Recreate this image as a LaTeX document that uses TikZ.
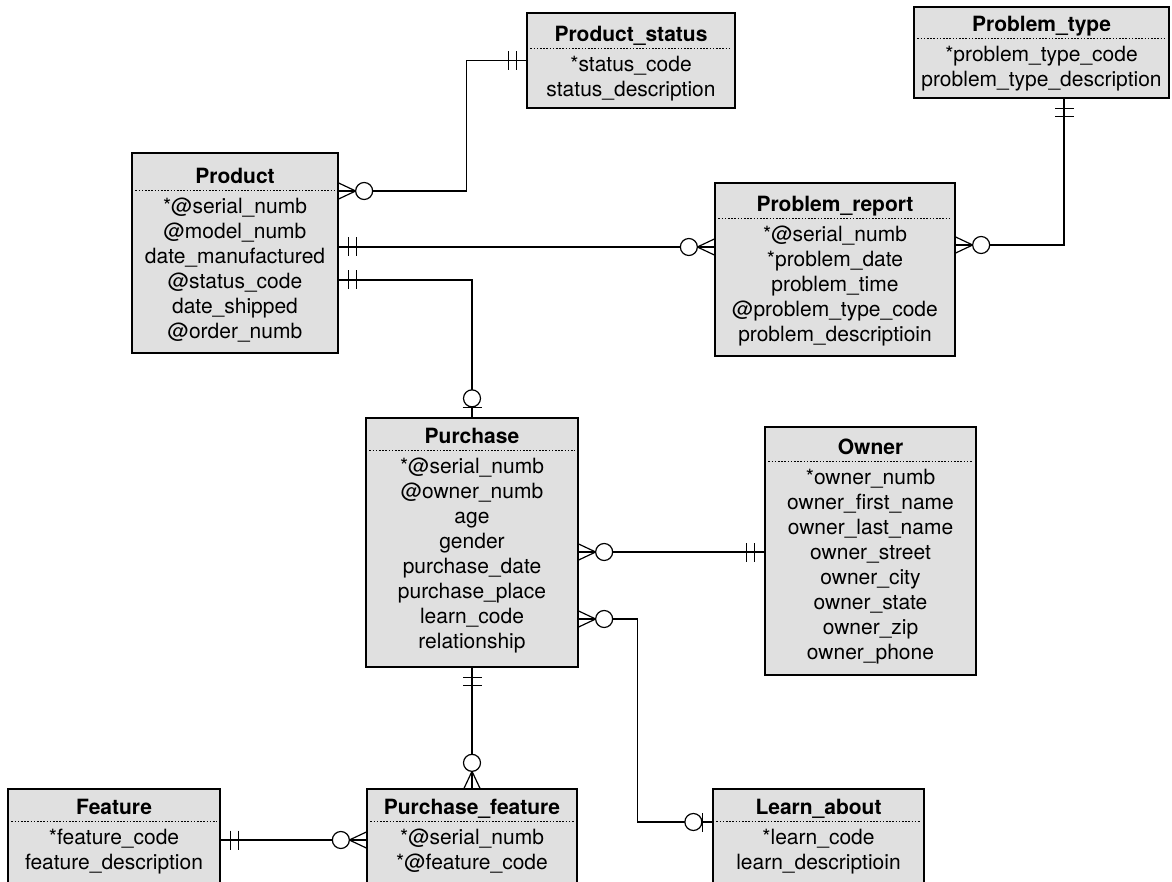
\documentclass[tikz,border=0pt]{standalone}
\usepackage{fontspec}
\setmainfont{TeX Gyre Heros}
\usetikzlibrary{calc, positioning}
\tikzset{
  ent/.style     ={draw, fill=black!12, line width=1.3pt, inner sep=0pt},
  ttl/.style     ={font=\fontsize{21}{25}\selectfont\bfseries, inner sep=0pt, text height=16pt, text depth=7pt},
  flds/.style    ={font=\fontsize{21}{25}\selectfont, align=center, inner sep=0pt},
  sep/.style     ={line width=1pt, dash pattern=on 1.7pt off 1.5pt},
  rel/.style     ={line width=1.2pt},
  onlyone/.pic   ={\draw[rel] (10,-9.5) -- (10,9.5) (18,-9.5) -- (18,9.5);},        % || one and only one
  zeroone/.pic   ={\draw[rel] (10,-9.5) -- (10,9.5); \draw[rel, fill=white] (19,0) circle[radius=8.5];}, % O|
  zeromany/.pic  ={\draw[rel] (0,-8) -- (17,0) -- (0,8); \draw[rel, fill=white] (25.5,0) circle[radius=8.5];}, % O<
}

\begin{document}
\begin{tikzpicture}[x=1pt, y=-1pt]
  \path[use as bounding box, clip] (0,0) rectangle (1172,882);
  % boxes
  \node[ent, minimum width=208pt, minimum height=95pt]  (pstat) at (631,60.5)    {};
  \node[ent, minimum width=255pt, minimum height=91pt]  (ptype) at (1041.5,52.5) {};
  \node[ent, minimum width=206pt, minimum height=200pt] (prod)  at (235,253)     {};
  \node[ent, minimum width=240pt, minimum height=173pt] (rep)   at (835,269.5)   {};
  \node[ent, minimum width=212pt, minimum height=249pt] (purch) at (472,542.5)   {};
  \node[ent, minimum width=211pt, minimum height=248pt] (owner) at (870.5,551)   {};
  \node[ent, minimum width=212pt, minimum height=111pt] (feat)  at (114,844.5)   {};
  \node[ent, minimum width=210pt, minimum height=111pt] (pfeat) at (472,844.5)   {};
  \node[ent, minimum width=211pt, minimum height=111pt] (learn) at (818.5,844.5) {};
  % titles
  \node[ttl, below=13pt of pstat.north]   (pstat-t) {Product\_status};
  \node[ttl, below=9pt of ptype.north]    (ptype-t) {Problem\_type};
  \node[ttl, below=14.5pt of prod.north]  (prod-t)  {Product};
  \node[ttl, below=13pt of rep.north]     (rep-t)   {Problem\_report};
  \node[ttl, below=10pt of purch.north]   (purch-t) {Purchase};
  \node[ttl, below=12pt of owner.north]   (owner-t) {Owner};
  \node[ttl, below=10pt of feat.north]    (feat-t)  {Feature};
  \node[ttl, below=10pt of pfeat.north]   (pfeat-t) {Purchase\_feature};
  \node[ttl, below=10pt of learn.north]   (learn-t) {Learn\_about};
  % fields
  \node[flds, below=7pt of pstat-t] (pstat-f) {*status\_code\\status\_description};
  \node[flds, below=7pt of ptype-t] (ptype-f) {*problem\_type\_code\\problem\_type\_description};
  \node[flds, below=7pt of prod-t]  (prod-f)  {*@serial\_numb\\@model\_numb\\date\_manufactured\\@status\_code\\date\_shipped\\@order\_numb};
  \node[flds, below=7pt of rep-t]   (rep-f)   {*@serial\_numb\\*problem\_date\\problem\_time\\@problem\_type\_code\\problem\_descriptioin};
  \node[flds, below=7pt of purch-t] (purch-f) {*@serial\_numb\\@owner\_numb\\age\\gender\\purchase\_date\\purchase\_place\\learn\_code\\relationship};
  \node[flds, below=7pt of owner-t] (owner-f) {*owner\_numb\\owner\_first\_name\\owner\_last\_name\\owner\_street\\owner\_city\\owner\_state\\owner\_zip\\owner\_phone};
  \node[flds, below=7pt of feat-t]  (feat-f)  {*feature\_code\\feature\_description};
  \node[flds, below=7pt of pfeat-t] (pfeat-f) {*@serial\_numb\\*@feature\_code};
  \node[flds, below=7pt of learn-t] (learn-f) {*learn\_code\\learn\_descriptioin};
  % dotted rules under the titles
  \foreach \e in {pstat, ptype, prod, rep, purch, owner, feat, pfeat, learn}
    \draw[sep] ($(\e.west |- \e-t.south)+(4,0)$) -- ($(\e.east |- \e-t.south)+(-4,0)$);
  % connector ends
  \coordinate (a1) at ([yshift=62pt]prod.east);
  \coordinate (b1) at ([yshift=6pt]prod.east);
  \coordinate (c1) at ([yshift=-27pt]prod.east);
  \coordinate (d1) at ([yshift=24.5pt]rep.east);
  \coordinate (d2) at ([xshift=22.5pt]ptype.south);
  \coordinate (e1) at ([yshift=-9.5pt]purch.east);
  \coordinate (f1) at ([yshift=-76.5pt]purch.east);
  \coordinate (f2) at ([yshift=22.5pt]learn.west);
  \coordinate (h1) at ([yshift=4.5pt]feat.east);
  % connectors
  \draw[rel] (a1) -- ++(128,0) |- (pstat.west);
  \draw[rel] (b1) -- (b1 -| rep.west);
  \draw[rel] (c1) -| (purch.north);
  \draw[rel] (d1) -| (d2);
  \draw[rel] (e1) -- (e1 -| owner.west);
  \draw[rel] (f1) -- ++(59,0) |- (f2);
  \draw[rel] (purch.south) -- (pfeat.north);
  \draw[rel] (h1) -- (h1 -| pfeat.west);
  % cardinality marks
  \pic at (a1) {zeromany};
  \pic[rotate=180] at (pstat.west) {onlyone};
  \pic at (b1) {onlyone};
  \pic[rotate=180] at (b1 -| rep.west) {zeromany};
  \pic at (c1) {onlyone};
  \pic[rotate=90] at (purch.north) {zeroone};
  \pic at (d1) {zeromany};
  \pic[rotate=-90] at (d2) {onlyone};
  \pic at (e1) {zeromany};
  \pic[rotate=180] at (e1 -| owner.west) {onlyone};
  \pic at (f1) {zeromany};
  \pic[rotate=180] at (f2) {zeroone};
  \pic[rotate=-90] at (purch.south) {onlyone};
  \pic[rotate=90] at (pfeat.north) {zeromany};
  \pic at (h1) {onlyone};
  \pic[rotate=180] at (h1 -| pfeat.west) {zeromany};
\end{tikzpicture}
\end{document}
